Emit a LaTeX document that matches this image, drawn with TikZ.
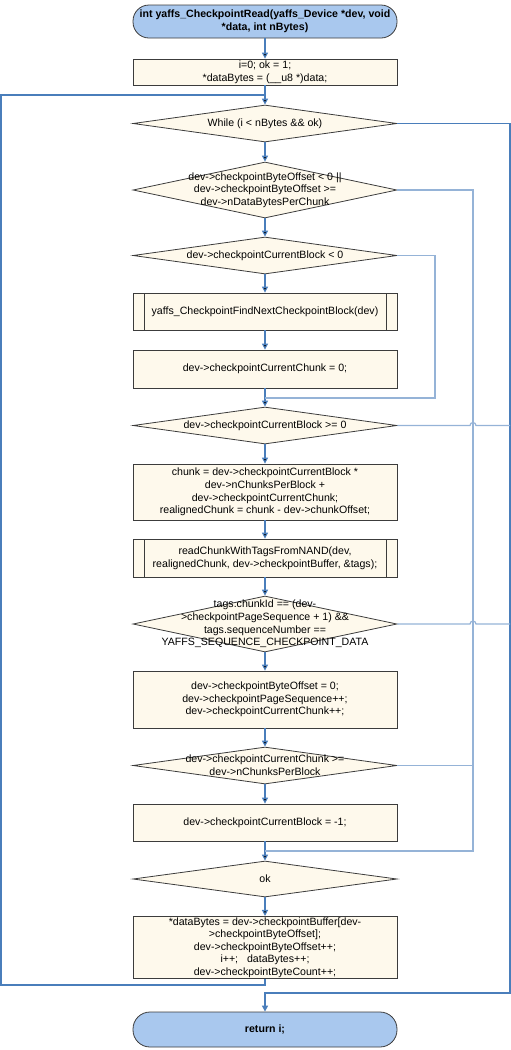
\documentclass[tikz,border=0pt]{standalone}
\usepackage{fontspec}
\setmainfont{Liberation Sans}
\usetikzlibrary{shapes.geometric,arrows.meta}
\definecolor{termfill}{HTML}{A9C8EE}
\definecolor{boxfill}{HTML}{FEF9EC}
\definecolor{flow}{HTML}{4A7EBB}
\definecolor{branch}{HTML}{95B3D7}
\definecolor{outline}{HTML}{3C3C3C}

\begin{document}
\begin{tikzpicture}[x=1pt,y=-1pt,font=\fontsize{10.6}{12.6}\selectfont,
    term/.style={rectangle,rounded corners=16pt,draw=outline,line width=0.8pt,fill=termfill,
        minimum width=264pt,minimum height=33pt,inner sep=0pt,align=center,font=\fontsize{10.6}{12.6}\selectfont\bfseries},
    process/.style={rectangle,draw=outline,line width=0.8pt,fill=boxfill,
        minimum width=264pt,inner sep=1pt,align=center},
    subproc/.style={process,path picture={
        \draw[outline,line width=0.8pt] ([xshift=11pt]path picture bounding box.north west) -- ([xshift=11pt]path picture bounding box.south west)
            ([xshift=-11pt]path picture bounding box.north east) -- ([xshift=-11pt]path picture bounding box.south east);}},
    decision/.style={diamond,draw=outline,line width=0.8pt,fill=boxfill,
        minimum width=264pt,inner sep=0pt},
    flowline/.style={draw=flow,line width=1.2pt},
    branchline/.style={draw=branch,line width=1.2pt},
    tip/.style={-{Triangle[length=6pt,width=6pt]}}]
        \useasboundingbox (0,0) rectangle (511,1050);

        \node[term] at (265, 21.5) (start) {int yaffs\_CheckpointRead(yaffs\_Device *dev, void\\*data, int nBytes)};
        \node[process, minimum height=26pt] at (265, 72) (init) {i=0; ok = 1;\\*dataBytes = (\_\_u8 *)data;};
        \node[decision, minimum height=37pt, label={[align=center]center:While (i < nBytes \&\& ok)}] at (265, 123.5) (while) {};
        \node[decision, minimum height=56pt, label={[align=center]center:dev->checkpointByteOffset < 0 ||\\dev->checkpointByteOffset >=\\dev->nDataBytesPerChunk}] at (265, 190) (offchk) {};
        \node[decision, minimum height=37pt, label={[align=center]center:dev->checkpointCurrentBlock < 0}] at (265, 255.5) (blkneg) {};
        \node[subproc, minimum height=37pt] at (265, 311.5) (findblk) {yaffs\_CheckpointFindNextCheckpointBlock(dev)};
        \node[process, minimum height=38pt] at (265, 369) (chunkzero) {dev->checkpointCurrentChunk = 0;};
        \node[decision, minimum height=37pt, label={[align=center]center:dev->checkpointCurrentBlock >= 0}] at (265, 425.5) (blkok) {};
        \node[process, minimum height=56pt] at (265, 492) (calc) {chunk = dev->checkpointCurrentBlock *\\dev->nChunksPerBlock +\\dev->checkpointCurrentChunk;\\realignedChunk = chunk - dev->chunkOffset;};
        \node[subproc, minimum height=38pt] at (265, 558) (readchunk) {readChunkWithTagsFromNAND(dev,\\realignedChunk, dev->checkpointBuffer, \&tags);};
        \node[decision, minimum height=56pt, label={[align=center]center:tags.chunkId == (dev-\\>checkpointPageSequence + 1) \&\&\\tags.sequenceNumber ==\\YAFFS\_SEQUENCE\_CHECKPOINT\_DATA}] at (265, 624) (tagchk) {};
        \node[process, minimum height=57pt] at (265, 699.5) (advance) {dev->checkpointByteOffset = 0;\\dev->checkpointPageSequence++;\\dev->checkpointCurrentChunk++;};
        \node[decision, minimum height=37pt, label={[align=center]center:dev->checkpointCurrentChunk >=\\dev->nChunksPerBlock}] at (265, 765.5) (chunkchk) {};
        \node[process, minimum height=37pt] at (265, 822.5) (blkreset) {dev->checkpointCurrentBlock = -1;};
        \node[decision, minimum height=36pt, label={[align=center]center:ok}] at (265, 879) (okchk) {};
        \node[process, minimum height=61pt] at (265, 947.5) (copy) {*dataBytes = dev->checkpointBuffer[dev-\\>checkpointByteOffset];\\dev->checkpointByteOffset++;\\i++;\ \ \ dataBytes++;\\dev->checkpointByteCount++;};
        \node[term, minimum height=35pt, rounded corners=17pt] at (265, 1029.5) (stop) {return i;};

        % joins and side columns
        \coordinate (whilein) at (265, 95);
        \coordinate (blkin) at (265, 398);
        \coordinate (okin) at (265, 851);
        \coordinate (copyout) at (265, 985);
        \coordinate (stopin) at (265, 993);
        \coordinate (colL) at (1, 0);
        \coordinate (colC) at (435, 0);
        \coordinate (colA) at (473, 0);
        \coordinate (colB) at (510, 0);

        \path[flowline, tip]
            (start) edge (init)
            (init) edge (while)
            (while) edge (offchk)
            (offchk) edge (blkneg)
            (blkneg) edge (findblk)
            (findblk) edge (chunkzero)
            (chunkzero) edge (blkok)
            (blkok) edge (calc)
            (calc) edge (readchunk)
            (readchunk) edge (tagchk)
            (tagchk) edge (advance)
            (advance) edge (chunkchk)
            (chunkchk) edge (blkreset)
            (blkreset) edge (okchk)
            (okchk) edge (copy)
            ;

        % loop back and exits
        \draw[flowline] (copy.south) -- (copyout) -| (colL |- whilein) -- (whilein);
        \draw[flowline, tip] (while.east) -| (colB |- stopin) -- (stopin) -- (stop.north);
        \draw[branchline] (offchk.east) -| (colA |- okin) -- (okin);
        \draw[branchline] (blkneg.east) -| (colC |- blkin) -- (blkin);
        \draw[branchline] (blkok.east) -- ([xshift=-3pt]colA |- blkok.east) arc[start angle=180, end angle=360, radius=3] -- (colB |- blkok.east);
        \draw[branchline] (tagchk.east) -- ([xshift=-3pt]colA |- tagchk.east) arc[start angle=180, end angle=360, radius=3] -- (colB |- tagchk.east);
        \draw[branchline] (chunkchk.east) -- (colA |- chunkchk.east);
    \end{tikzpicture}
\end{document}
